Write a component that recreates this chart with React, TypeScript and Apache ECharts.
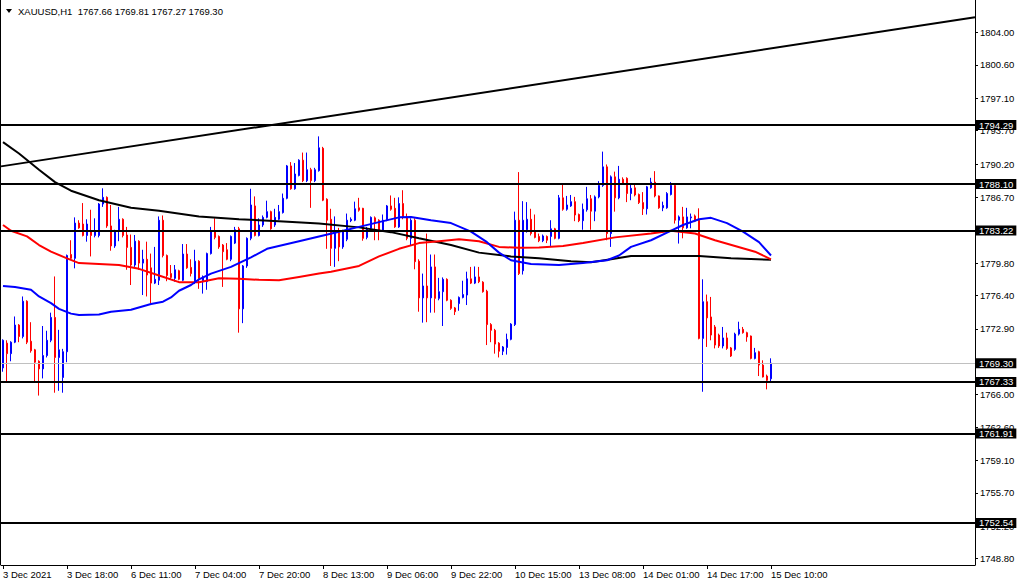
import React, { useEffect, useRef } from "react";
import * as echarts from "echarts";

// [open, close, low, high] per H1 bar, oldest first
const candles: [number, number, number, number][] = [
  [1768.8, 1771.7, 1768.4, 1771.8], [1771.4, 1770.3, 1767.4, 1771.7], [1770.3, 1771.5, 1769.5, 1771.6], [1771.5, 1773.3, 1771.4, 1774.2],
  [1773.3, 1772.1, 1771.5, 1773.4], [1772.1, 1775.8, 1771.9, 1776.3], [1775.8, 1771.5, 1771.3, 1775.9], [1771.6, 1770.6, 1770.4, 1773.6],
  [1770.7, 1769.4, 1767.3, 1770.8], [1769.5, 1768.7, 1765.9, 1769.6], [1768.7, 1770.1, 1767.7, 1773.2], [1770.1, 1771.7, 1769.9, 1772.7],
  [1771.7, 1774.1, 1771.5, 1774.6], [1774.1, 1769.9, 1766.2, 1778.4], [1769.9, 1770.7, 1766.4, 1772.8], [1767.8, 1770.5, 1766.2, 1770.8],
  [1770.5, 1780.6, 1769.4, 1780.7], [1780.7, 1780.3, 1780.2, 1782.2], [1780.3, 1784.0, 1779.25, 1784.6], [1784.0, 1783.5, 1783.4, 1784.3],
  [1783.9, 1782.7, 1782.6, 1786.1], [1782.7, 1783.9, 1782.05, 1784.4], [1783.2, 1782.7, 1780.5, 1785.4], [1782.7, 1783.2, 1782.5, 1784.5],
  [1782.7, 1786.0, 1782.5, 1786.1], [1786.0, 1786.7, 1785.7, 1787.65], [1786.7, 1783.7, 1783.5, 1786.8], [1783.7, 1781.6, 1781.1, 1785.9],
  [1781.6, 1783.2, 1781.4, 1783.3], [1783.2, 1784.4, 1782.1, 1785.7], [1784.4, 1782.7, 1782.5, 1784.5], [1782.75, 1781.45, 1779.1, 1783.6],
  [1781.45, 1779.6, 1777.5, 1782.8], [1779.6, 1782.1, 1779.4, 1782.75], [1782.1, 1779.8, 1779.1, 1782.2], [1779.8, 1780.2, 1776.45, 1781.2],
  [1780.2, 1778.55, 1776.3, 1782.05], [1779.3, 1777.7, 1775.6, 1780.8], [1777.7, 1778.1, 1777.6, 1781.5], [1778.0, 1784.3, 1777.5, 1784.7],
  [1784.3, 1780.6, 1780.4, 1784.8], [1780.6, 1778.5, 1777.9, 1780.7], [1778.7, 1778.3, 1778.1, 1779.6], [1778.2, 1779.1, 1777.85, 1779.6],
  [1779.0, 1778.1, 1778.0, 1779.1], [1778.0, 1780.75, 1777.9, 1781.8], [1780.75, 1779.3, 1779.2, 1781.8], [1779.35, 1778.7, 1778.4, 1780.2],
  [1777.8, 1780.0, 1777.6, 1781.2], [1780.0, 1778.2, 1777.1, 1780.1], [1777.85, 1778.35, 1776.6, 1778.5], [1777.85, 1780.8, 1777.0, 1780.9],
  [1780.8, 1783.1, 1780.7, 1783.6], [1783.1, 1782.5, 1782.3, 1784.5], [1782.6, 1781.5, 1781.3, 1782.7], [1781.7, 1781.0, 1777.3, 1781.8],
  [1781.2, 1780.2, 1780.1, 1781.9], [1780.2, 1782.6, 1780.0, 1782.7], [1781.9, 1783.3, 1781.8, 1783.6], [1783.4, 1775.0, 1772.5, 1783.6],
  [1775.0, 1779.5, 1773.5, 1779.6], [1779.5, 1782.4, 1779.3, 1782.5], [1782.4, 1785.9, 1782.2, 1787.6], [1785.8, 1782.7, 1782.6, 1786.8],
  [1782.7, 1783.8, 1782.6, 1784.5], [1783.8, 1784.6, 1783.6, 1784.8], [1784.6, 1785.2, 1784.5, 1786.35], [1785.2, 1783.4, 1783.3, 1785.3],
  [1783.8, 1784.6, 1783.6, 1785.5], [1784.4, 1785.2, 1784.3, 1785.9], [1785.1, 1786.6, 1785.0, 1787.1], [1786.6, 1790.0, 1786.5, 1790.1],
  [1790.0, 1787.6, 1787.5, 1790.4], [1787.6, 1789.15, 1787.5, 1790.3], [1789.0, 1790.6, 1788.9, 1790.7], [1790.6, 1788.45, 1788.3, 1791.4],
  [1788.45, 1789.6, 1788.3, 1791.4], [1789.6, 1788.45, 1785.6, 1789.8], [1788.45, 1789.6, 1788.3, 1789.8], [1789.5, 1791.9, 1789.4, 1793.1],
  [1791.85, 1786.4, 1786.3, 1792.0], [1786.5, 1784.3, 1781.3, 1786.6], [1784.4, 1781.35, 1779.5, 1785.5], [1781.35, 1783.0, 1779.4, 1784.7],
  [1783.0, 1781.5, 1780.0, 1783.5], [1781.5, 1783.1, 1781.3, 1783.3], [1782.3, 1784.3, 1782.1, 1785.0], [1784.25, 1784.4, 1784.1, 1784.6],
  [1784.3, 1785.5, 1784.2, 1786.25], [1785.6, 1785.35, 1785.2, 1786.65], [1785.55, 1782.4, 1782.15, 1785.6], [1782.5, 1783.45, 1782.3, 1783.6],
  [1783.45, 1784.6, 1783.3, 1784.7], [1784.55, 1784.15, 1782.2, 1784.7], [1784.3, 1783.1, 1782.2, 1784.4], [1783.25, 1784.3, 1783.1, 1784.9],
  [1784.3, 1785.8, 1784.2, 1785.9], [1785.8, 1785.45, 1785.3, 1786.9], [1785.55, 1783.6, 1783.5, 1786.65], [1783.6, 1786.05, 1783.5, 1786.7],
  [1786.05, 1784.6, 1784.4, 1787.45], [1784.6, 1782.4, 1782.2, 1785.0], [1782.4, 1784.3, 1781.7, 1784.5], [1784.3, 1779.95, 1779.15, 1784.5],
  [1780.0, 1776.15, 1774.7, 1780.2], [1776.15, 1777.4, 1773.55, 1778.7], [1777.4, 1776.15, 1773.6, 1782.9], [1776.15, 1779.4, 1774.6, 1780.7],
  [1779.4, 1776.1, 1774.6, 1780.7], [1776.1, 1776.8, 1775.9, 1778.25], [1776.8, 1778.1, 1773.2, 1778.3], [1778.1, 1775.9, 1775.8, 1778.2],
  [1775.9, 1775.05, 1774.9, 1776.0], [1775.1, 1774.7, 1774.35, 1775.2], [1775.55, 1776.2, 1774.8, 1776.3], [1776.2, 1776.5, 1776.1, 1777.95],
  [1776.45, 1778.15, 1775.4, 1778.9], [1778.15, 1777.7, 1777.6, 1779.4], [1777.7, 1778.35, 1777.6, 1779.45], [1778.35, 1777.85, 1777.7, 1779.4],
  [1777.8, 1776.8, 1776.7, 1777.9], [1776.85, 1773.35, 1771.2, 1777.0], [1773.35, 1772.75, 1771.5, 1773.5], [1772.75, 1771.3, 1770.3, 1772.9],
  [1771.4, 1770.55, 1769.9, 1771.5], [1770.55, 1771.0, 1770.15, 1771.1], [1770.95, 1771.8, 1770.2, 1772.4], [1771.8, 1773.4, 1771.7, 1773.5],
  [1773.35, 1784.3, 1773.2, 1785.2], [1784.3, 1778.7, 1778.55, 1789.35], [1779.0, 1784.3, 1778.6, 1786.3], [1783.3, 1784.4, 1783.0, 1786.2],
  [1784.4, 1782.9, 1782.7, 1785.5], [1783.1, 1782.5, 1782.4, 1784.9], [1782.6, 1782.15, 1782.0, 1782.9], [1782.15, 1782.65, 1782.0, 1782.8],
  [1782.6, 1782.2, 1781.9, 1782.7], [1782.6, 1783.4, 1781.6, 1784.3], [1783.4, 1782.4, 1782.3, 1783.5], [1782.4, 1786.65, 1782.3, 1786.95],
  [1786.65, 1785.45, 1785.3, 1788.0], [1785.45, 1785.9, 1785.3, 1786.85], [1785.8, 1786.25, 1785.7, 1786.95], [1786.25, 1784.85, 1784.2, 1786.75],
  [1784.9, 1784.25, 1784.1, 1785.0], [1784.25, 1785.45, 1783.3, 1786.05], [1785.4, 1786.55, 1785.2, 1787.8], [1786.55, 1785.25, 1783.3, 1786.95],
  [1785.25, 1786.75, 1784.2, 1786.9], [1786.75, 1787.95, 1786.6, 1788.4], [1787.95, 1789.9, 1787.8, 1791.5], [1789.9, 1782.9, 1782.2, 1790.15],
  [1782.9, 1788.85, 1781.5, 1789.0], [1788.85, 1786.65, 1785.2, 1789.4], [1786.65, 1788.6, 1786.5, 1790.0], [1788.6, 1788.15, 1788.0, 1788.8],
  [1788.7, 1787.1, 1786.2, 1788.8], [1787.1, 1787.65, 1786.4, 1788.05], [1787.7, 1786.95, 1786.8, 1788.05], [1787.0, 1786.15, 1786.0, 1787.1],
  [1786.15, 1785.5, 1784.85, 1787.25], [1785.5, 1787.8, 1784.9, 1787.9], [1787.7, 1788.3, 1787.6, 1788.75], [1788.3, 1786.85, 1786.7, 1789.45],
  [1786.85, 1785.6, 1785.5, 1786.9], [1785.6, 1785.85, 1785.25, 1786.25], [1785.6, 1787.1, 1785.5, 1787.25], [1787.0, 1787.95, 1786.9, 1788.3],
  [1787.95, 1784.3, 1783.95, 1788.0], [1784.3, 1784.65, 1781.85, 1784.8], [1784.65, 1783.5, 1782.4, 1785.7], [1783.5, 1784.65, 1783.4, 1785.6],
  [1784.55, 1784.65, 1783.45, 1785.0], [1784.75, 1784.2, 1784.1, 1784.9], [1784.3, 1771.9, 1771.8, 1785.55], [1771.9, 1775.75, 1766.3, 1778.1],
  [1775.75, 1774.05, 1771.0, 1776.5], [1774.15, 1772.25, 1771.7, 1776.25], [1773.1, 1771.2, 1770.85, 1773.3], [1772.25, 1771.1, 1770.9, 1772.4],
  [1771.1, 1771.95, 1770.85, 1773.1], [1771.95, 1770.85, 1770.7, 1772.5], [1770.9, 1770.05, 1769.95, 1771.0], [1770.75, 1772.35, 1770.6, 1772.5],
  [1772.35, 1772.85, 1772.2, 1773.65], [1772.85, 1772.5, 1772.4, 1773.1], [1772.5, 1772.05, 1771.55, 1772.6], [1772.15, 1769.8, 1769.7, 1772.2],
  [1769.8, 1770.4, 1769.7, 1770.9], [1770.5, 1769.1, 1767.95, 1770.6], [1769.1, 1767.85, 1767.8, 1769.6], [1767.95, 1767.5, 1766.55, 1768.1],
  [1767.66, 1769.3, 1767.27, 1769.81],
];

// moving averages: [bar index, price]
const blackMA: [number, number][] = [
  [0, 1792.5], [4, 1791.3], [9, 1789.6], [13, 1788.3], [17, 1787.4], [24, 1786.4], [32, 1785.6], [39, 1785.3],
  [49, 1784.7], [59, 1784.4], [69, 1784.2], [79, 1783.95], [89, 1783.55], [97, 1783.05], [104, 1782.4], [112, 1781.7],
  [119, 1780.9], [127, 1780.5], [134, 1780.3], [142, 1780.0], [147, 1779.9], [152, 1780.2], [157, 1780.55], [174, 1780.55],
  [182, 1780.3], [192, 1780.15],
];
const redMA: [number, number][] = [
  [0, 1783.8], [2, 1783.2], [6, 1782.6], [9, 1781.7], [12, 1781.0], [16, 1780.3], [19, 1779.8], [24, 1779.7],
  [29, 1779.6], [34, 1779.2], [39, 1778.5], [44, 1777.8], [49, 1777.8], [54, 1778.2], [59, 1778.15], [64, 1778.05],
  [69, 1778.0], [74, 1778.35], [79, 1778.7], [82, 1778.9], [89, 1779.5], [94, 1780.5], [99, 1781.3], [104, 1781.9],
  [109, 1782.1], [114, 1782.3], [119, 1782.1], [124, 1781.5], [129, 1781.4], [134, 1781.45], [140, 1781.6], [145, 1781.9],
  [153, 1782.5], [162, 1782.9], [167, 1783.2], [173, 1782.9], [178, 1782.2], [183, 1781.6], [188, 1781.0], [192, 1780.2],
];
const blueMA: [number, number][] = [
  [0, 1777.4], [3, 1777.3], [7, 1777.0], [9, 1776.3], [12, 1775.6], [14, 1775.0], [17, 1774.5], [19, 1774.35],
  [24, 1774.4], [27, 1774.7], [32, 1774.9], [37, 1775.5], [40, 1775.75], [42, 1776.2], [44, 1776.9], [47, 1777.5],
  [49, 1778.1], [52, 1778.7], [57, 1779.4], [62, 1780.4], [66, 1781.3], [70, 1781.7], [74, 1782.1], [79, 1782.6],
  [84, 1783.1], [89, 1783.6], [94, 1784.1], [99, 1784.6], [102, 1784.65], [107, 1784.3], [112, 1784.0], [117, 1783.1],
  [121, 1782.0], [124, 1780.9], [127, 1780.1], [132, 1779.7], [139, 1779.6], [145, 1779.8], [151, 1780.1], [154, 1780.6],
  [157, 1781.5], [162, 1782.2], [166, 1783.0], [170, 1783.8], [174, 1784.4], [177, 1784.55], [181, 1784.0], [185, 1783.1],
  [189, 1782.0], [192, 1780.6],
];
const trendLine: [number, number][] = [[-0.5, 1789.95], [243, 1805.6]];
const levels = [1794.29, 1788.1, 1783.22, 1767.33, 1761.91, 1752.54];
const bidPrice = 1769.3;
const priceTicks = [1804.0, 1800.6, 1797.1, 1793.7, 1790.2, 1786.7, 1783.3, 1779.8, 1776.4, 1772.9, 1769.5, 1766.0, 1762.6, 1759.1, 1755.7, 1752.2, 1748.8];
const timeTickBars = [0, 16, 32, 48, 64, 80, 96, 112, 128, 144, 160, 176, 192];
const timeLabels = ["3 Dec 2021", "3 Dec 18:00", "6 Dec 11:00", "7 Dec 04:00", "7 Dec 20:00", "8 Dec 13:00", "9 Dec 06:00", "9 Dec 22:00", "10 Dec 15:00", "13 Dec 08:00", "14 Dec 01:00", "14 Dec 17:00", "15 Dec 10:00"];
const symbolName = "XAUUSD,H1";

const FONT = '"Liberation Sans", Arial, sans-serif';
const FS = 9.5;

export default function App() {
  const ref = useRef<HTMLDivElement>(null);
  useEffect(() => {
    if (!ref.current) return;
    const chart = echarts.init(ref.current, null, { renderer: "svg" });
    const last = candles[candles.length - 1];
    const header = `${symbolName}  ${last[0].toFixed(2)} ${last[3].toFixed(2)} ${last[2].toFixed(2)} ${last[1].toFixed(2)}`;
    const lineSeries = (data: [number, number][], color: string, width: number) => ({
      type: "line",
      data,
      symbol: "none",
      showSymbol: false,
      silent: true,
      z: 3,
      lineStyle: { color, width },
    });
    chart.setOption({
      animation: false,
      backgroundColor: "#ffffff",
      grid: { left: 1, right: 45, top: 0, bottom: 19, show: false },
      xAxis: {
        type: "value",
        min: -0.5,
        max: 243,
        axisLine: { show: true, onZero: false, lineStyle: { color: "#000", width: 1 } },
        axisTick: { show: true, length: 4, customValues: timeTickBars, lineStyle: { color: "#000" } },
        axisLabel: {
          customValues: timeTickBars,
          formatter: (v: number) => timeLabels[timeTickBars.indexOf(Math.round(v))] ?? "",
          align: "left",
          margin: 4,
          color: "#000",
          fontFamily: FONT,
          fontSize: FS,
        },
        splitLine: { show: false },
      },
      yAxis: {
        type: "value",
        position: "right",
        min: 1748.12,
        max: 1807.41,
        axisLine: { show: true, onZero: false, lineStyle: { color: "#000", width: 1 } },
        axisTick: { show: true, length: 3, customValues: priceTicks, lineStyle: { color: "#000" } },
        axisLabel: {
          customValues: priceTicks,
          formatter: (v: number) => v.toFixed(2),
          margin: 5,
          color: "#000",
          fontFamily: FONT,
          fontSize: FS,
        },
        splitLine: { show: false },
      },
      series: [
        {
          type: "candlestick",
          data: candles.map((c, i) => [i, c[0], c[1], c[2], c[3]]),
          encode: { x: 0, y: [1, 2, 3, 4] },
          barWidth: 2,
          z: 2,
          itemStyle: {
            color: "#0000ff",
            color0: "#ff0000",
            borderColor: "#0000ff",
            borderColor0: "#ff0000",
            borderWidth: 1,
          },
          markLine: {
            silent: true,
            symbol: ["none", "none"],
            precision: 2,
            label: {
              show: true,
              position: "end",
              distance: 1,
              formatter: (p: any) => Number(p.value).toFixed(2),
              color: "#fff",
              backgroundColor: "#000",
              padding: [0, 3, 0, 3],
              fontFamily: FONT,
              fontSize: FS,
            },
            data: [
              { yAxis: bidPrice, lineStyle: { color: "#c0c0c0", width: 1, type: "solid" } },
              ...levels.map((v) => ({ yAxis: v, lineStyle: { color: "#000", width: 2, type: "solid" } })),
            ],
          },
        },
        lineSeries(blackMA, "#000000", 2),
        lineSeries(redMA, "#ff0000", 2),
        lineSeries(blueMA, "#0000ff", 2),
        lineSeries(trendLine, "#000000", 2),
      ],
      graphic: [
        { type: "polygon", shape: { points: [[6, 9], [12, 9], [9, 13]] }, style: { fill: "#000" }, z: 10 },
        {
          type: "text",
          x: 18,
          y: 11,
          style: { text: header, fill: "#000", font: `${FS}px ${FONT}`, verticalAlign: "middle" },
          z: 10,
        },
        { type: "line", shape: { x1: 0.5, y1: 0, x2: 0.5, y2: 565 }, style: { stroke: "#000", lineWidth: 1 }, z: 10 },
      ],
    });
    return () => chart.dispose();
  }, []);
  return (
    <div
      ref={ref}
      style={{ position: "fixed", left: 0, top: 0, width: 1020, height: 584, background: "#fff" }}
    />
  );
}
